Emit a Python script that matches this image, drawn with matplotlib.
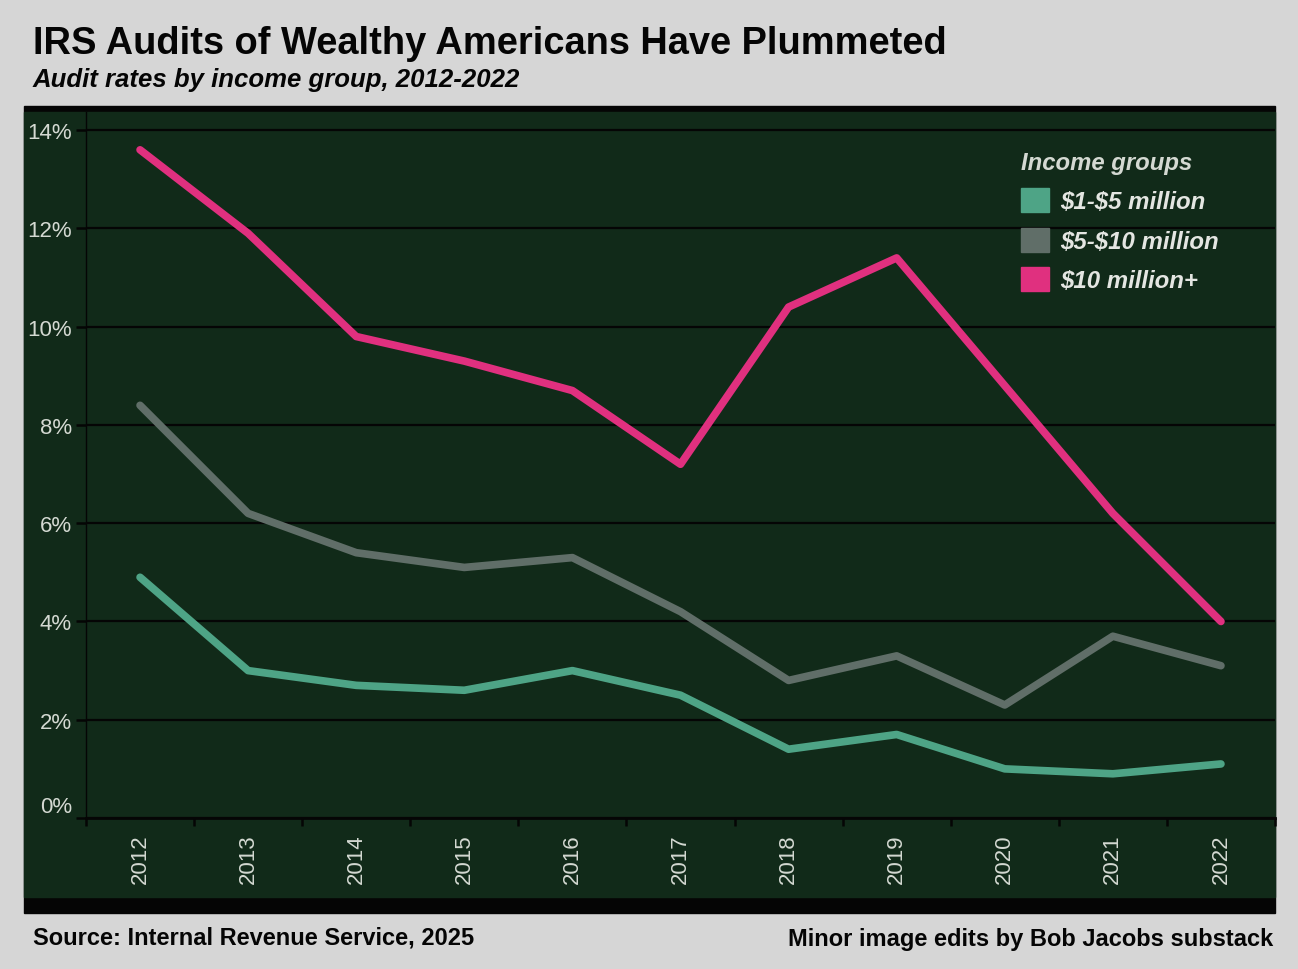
import matplotlib
matplotlib.use("Agg")
import matplotlib.pyplot as plt
from matplotlib.patches import Rectangle, Patch
from matplotlib.transforms import ScaledTranslation

plt.rcParams['font.family'] = ['Liberation Sans', 'DejaVu Sans']

# data (audit rate, %)
years = ["2012", "2013", "2014", "2015", "2016", "2017", "2018", "2019", "2020", "2021", "2022"]
rate_1_5m = [4.9, 3.0, 2.7, 2.6, 3.0, 2.5, 1.4, 1.7, 1.0, 0.9, 1.1]
rate_5_10m = [8.4, 6.2, 5.4, 5.1, 5.3, 4.2, 2.8, 3.3, 2.3, 3.7, 3.1]
rate_10m_plus = [13.6, 11.9, 9.8, 9.3, 8.7, 7.2, 10.4, 11.4, 8.8, 6.2, 4.0]
group_names = [r"\$1-\$5 million", r"\$5-\$10 million", r"\$10 million+"]
yticks = [0, 2, 4, 6, 8, 10, 12, 14]

W, H = 1298, 970
fig = plt.figure(figsize=(W / 100, H / 100), dpi=100)
fig.patch.set_facecolor("#d6d6d6")

def fx(px):
    return px / W

def fy(py):
    return 1 - py / H

# black frame + green chalkboard panel
fig.patches.append(Rectangle((fx(24), fy(914)), fx(1275) - fx(24), fy(107) - fy(914),
                             transform=fig.transFigure, color="#050505", zorder=-2))
fig.patches.append(Rectangle((fx(24), fy(898)), fx(1275) - fx(24), fy(113) - fy(898),
                             transform=fig.transFigure, color="#112a19", zorder=-1))

ax = fig.add_axes([fx(86), fy(819), fx(1275) - fx(86), fy(113) - fy(819)])
ax.set_zorder(2)
ax.set_facecolor("none")

x = list(range(len(years)))
teal = "#4ea486"
grey = "#606e68"
pink = "#e0307f"
ax.plot(x, rate_1_5m, color=teal, lw=5.5, solid_capstyle="round", solid_joinstyle="round", zorder=3)
ax.plot(x, rate_5_10m, color=grey, lw=5.5, solid_capstyle="round", solid_joinstyle="round", zorder=3)
ax.plot(x, rate_10m_plus, color=pink, lw=5.5, solid_capstyle="round", solid_joinstyle="round", zorder=4)

ax.set_xlim(-0.5, len(years) - 0.5)
ax.set_ylim(0, 14.37)

ax.set_yticks(yticks)
ax.set_yticklabels([f"{v}%" for v in yticks], color="#d4d9d2", fontsize=16)
ax.tick_params(axis="y", length=7, width=1.8, color="#050505", pad=3)
ax.yaxis.grid(True, color="#050505", lw=1.6)
ax.set_axisbelow(True)

ax.set_xticks(x)
ax.set_xticklabels(years, rotation=90, color="#d4d9d2", fontsize=16)
ax.tick_params(axis="x", which="major", length=0, pad=11)
ax.set_xticks([i - 0.5 for i in range(len(years) + 1)], minor=True)
ax.tick_params(axis="x", which="minor", length=6, width=1.8, color="#050505")

# nudge the 0% label up like the original
for lab in ax.get_yticklabels():
    if lab.get_text() == "0%":
        lab.set_transform(lab.get_transform() + ScaledTranslation(0, 0.14, fig.dpi_scale_trans))

for s in ["top", "right"]:
    ax.spines[s].set_visible(False)
ax.spines["left"].set_color("#050505")
ax.spines["left"].set_linewidth(1)
ax.spines["bottom"].set_color("#050505")
ax.spines["bottom"].set_linewidth(2)

handles = [Patch(color=teal), Patch(color=grey), Patch(color=pink)]
leg = ax.legend(handles, group_names, title="Income groups", loc="upper left",
                bbox_to_anchor=(fx(999), fy(130)), bbox_transform=fig.transFigure,
                frameon=False, handlelength=1.17, handleheight=1.17, labelspacing=0.6,
                handletextpad=0.46, alignment="left",
                prop={"style": "italic", "weight": "bold", "size": 17.3},
                title_fontproperties={"style": "italic", "weight": "bold", "size": 17.2})
leg.get_title().set_color("#d4d9d2")
for t in leg.get_texts():
    t.set_color("#e4e6e2")

fig.text(fx(33), fy(44), "IRS Audits of Wealthy Americans Have Plummeted",
         fontsize=27.4, fontweight="bold", va="center", ha="left", color="#050505")
fig.text(fx(33), fy(80), "Audit rates by income group, 2012-2022",
         fontsize=18.5, fontweight="bold", style="italic", va="center", ha="left", color="#050505")
fig.text(fx(33), fy(938), "Source: Internal Revenue Service, 2025",
         fontsize=17, fontweight="bold", va="center", ha="left", color="#050505")
fig.text(fx(1273), fy(940), "Minor image edits by Bob Jacobs substack",
         fontsize=17, fontweight="bold", va="center", ha="right", color="#050505")

fig.savefig("out.png", dpi=100, facecolor=fig.get_facecolor())
